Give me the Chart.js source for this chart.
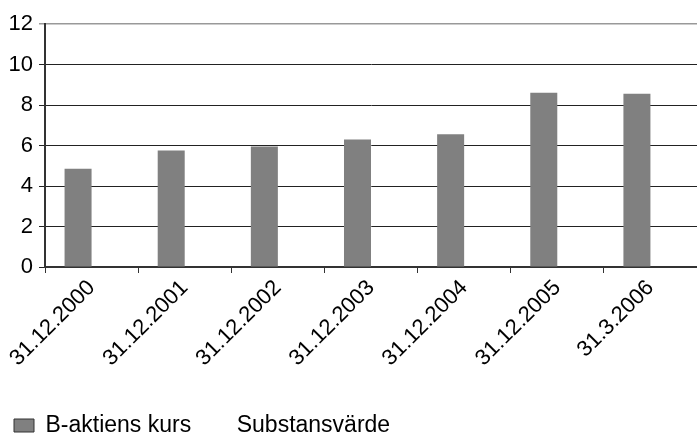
<html>
<head>
<script src="https://cdn.jsdelivr.net/npm/chart.js@4.4.0/dist/chart.umd.min.js"></script>
<style>
  body { margin: 0; background: #fff; }
  #wrap { width: 697px; height: 435px; }
</style>
</head>
<body>
<div id="wrap"><canvas id="myChart" width="697" height="435"></canvas></div>
<script>
var dates = ["31.12.2000", "31.12.2001", "31.12.2002", "31.12.2003", "31.12.2004", "31.12.2005", "31.3.2006"];
var kurs = [4.85, 5.75, 5.95, 6.3, 6.55, 8.6, 8.55];
var substans = [null, null, null, null, null, null, null];
var yTicks = [0, 2, 4, 6, 8, 10, 12];

Chart.defaults.font.family = "'Liberation Sans', Arial, sans-serif";
Chart.defaults.color = "#000";

var ctx = document.getElementById('myChart').getContext('2d');
var chart = new Chart(ctx, {
    type: "bar",
    data: {
        labels: dates,
        datasets: [
            {
                label: "B-aktiens kurs",
                backgroundColor: "#808080",
                borderColor: "#333",
                borderWidth: 0,
                data: kurs
            },
            {
                label: "Substansvärde",
                backgroundColor: "rgba(0,0,0,0)",
                borderColor: "rgba(0,0,0,0)",
                borderWidth: 0,
                data: substans
            }
        ]
    },
    options: {
        responsive: false,
        animation: false,
        layout: { padding: { top: 24, right: 0, left: 0, bottom: -12 } },
        datasets: { bar: { categoryPercentage: 0.58, barPercentage: 1 } },
        plugins: {
            tooltip: { enabled: false },
            legend: {
                position: "bottom",
                align: "start",
                labels: {
                    font: { size: 23 },
                    boxWidth: 20,
                    boxHeight: 13,
                    padding: 14,
                    generateLabels: function (c) {
                        return c.data.datasets.map(function (ds, i) {
                            return {
                                text: ds.label,
                                fillStyle: ds.backgroundColor,
                                strokeStyle: i === 0 ? "#333" : "rgba(0,0,0,0)",
                                lineWidth: i === 0 ? 1 : 0,
                                datasetIndex: i
                            };
                        });
                    }
                }
            }
        },
        scales: {
            x: {
                grid: { offset: true, drawOnChartArea: false, tickLength: 6, color: "#333" },
                border: { color: "#333", width: 2 },
                ticks: { font: { size: 22 }, minRotation: 45, maxRotation: 45, padding: 2 },
                afterFit: function (s) { s.height = 133; }
            },
            y: {
                min: 0,
                max: 12,
                afterBuildTicks: function (s) { s.ticks = yTicks.map(function (v) { return { value: v }; }); },
                grid: {
                    tickLength: 6,
                    color: function (c) { return c.tick && c.tick.value === 12 ? "#999" : "#222"; },
                    lineWidth: function (c) { return c.tick && c.tick.value === 12 ? 1.5 : 1; }
                },
                border: { color: "#333", width: 2 },
                ticks: { font: { size: 22 }, padding: 6 },
                afterFit: function (s) { s.width = 45; }
            }
        }
    }
});
</script>
</body>
</html>
